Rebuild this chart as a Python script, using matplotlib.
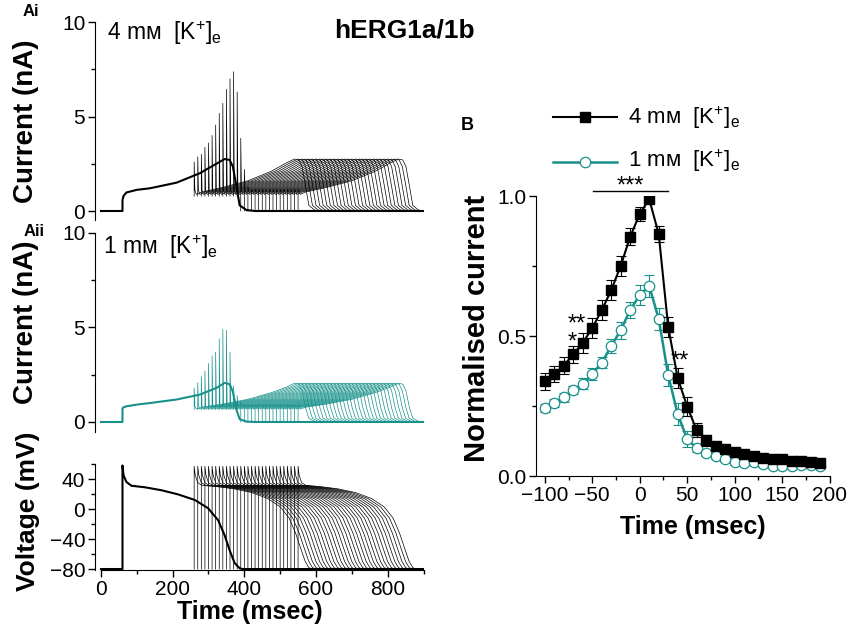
import numpy as np
import matplotlib.pyplot as plt
from matplotlib.lines import Line2D
from matplotlib.ticker import MultipleLocator

plt.rcParams['font.family'] = ['Liberation Sans', 'DejaVu Sans']
plt.rcParams['mathtext.fontset'] = 'custom'
plt.rcParams['mathtext.rm'] = 'Liberation Sans'
plt.rcParams['mathtext.it'] = 'Liberation Sans:italic'
plt.rcParams['mathtext.bf'] = 'Liberation Sans:bold'

TEAL = '#17918a'

# ---- panel A data (key points of the traces, msec) ----
# conditioning action potential
ap1_t = [0, 60, 60, 63, 71, 85, 122, 169, 215, 262, 299, 327, 345, 359, 373, 387, 395, 900]
ap1_v = [-80, -80, 58, 45, 36, 31, 29, 25, 19.5, 12, 1, -15, -35, -55, -72, -79, -80, -80]

# premature action potential, time relative to its stimulus
pre_t = [0, 0, 3, 10, 22, 60, 110, 160, 205, 240, 265, 283, 297, 310, 320, 328]
pre_v = [-80, 57, 45, 35, 31.5, 30, 27, 22, 14, 3, -12, -32, -52, -70, -78, -80]

# premature stimulus times
stim_t = [260, 270, 280, 290, 300, 310, 320, 330, 340, 350, 360, 370, 380, 390, 400,
          410, 420, 430, 440, 450, 460, 470, 480, 490, 500, 510, 520, 530, 540, 550]

# current during conditioning AP (4 mM and 1 mM K+)
cur1_t = [0, 60, 60, 63, 71, 100, 136, 211, 276, 322, 345, 359, 368, 378, 387, 406, 430, 900]
cur1_4mm = [0, 0, 0.58, 0.8, 0.98, 1.12, 1.2, 1.5, 2.0, 2.5, 2.75, 2.7, 2.35, 1.3, 0.3, 0.05, 0, 0]
cur1_1mm = [0, 0, 0.72, 0.78, 0.83, 0.92, 1.0, 1.19, 1.45, 1.8, 2.07, 2.0, 1.6, 0.65, 0.15, 0.02, 0, 0]

# current during premature AP, time relative to stimulus
prec_t = [2, 6, 20, 80, 150, 215, 258, 280, 292, 301, 311, 320, 336, 360]
prec_4mm = [1.1, 0.88, 1.0, 1.25, 1.6, 2.1, 2.55, 2.75, 2.7, 2.35, 1.3, 0.3, 0.05, 0]
prec_1mm = [0.85, 0.68, 0.78, 0.95, 1.2, 1.55, 1.85, 2.05, 2.0, 1.65, 0.75, 0.2, 0.03, 0]

# resurgent current peaks at each stimulus
spike_4mm = [2.6, 2.87, 3.0, 3.37, 3.6, 4.0, 4.55, 5.17, 5.7, 6.44, 7.0, 7.37, 6.3, 3.85, 2.2,
             1.3, 1.15, 1.15, 1.15, 1.15, 1.15, 1.15, 1.15, 1.15, 1.15, 1.15, 1.15, 1.15, 1.15, 1.15]
spike_1mm = [1.8, 2.07, 2.4, 2.7, 3.1, 3.5, 3.7, 4.4, 4.9, 4.85, 3.7, 1.9, 1.4, 1.1, 0.95,
             0.9, 0.9, 0.9, 0.9, 0.9, 0.9, 0.9, 0.9, 0.9, 0.9, 0.9, 0.9, 0.9, 0.9, 0.9]

# ---- panel B data ----
time_b = [-100, -90, -80, -70, -60, -50, -40, -30, -20, -10, 0, 10, 20, 30, 40,
          50, 60, 70, 80, 90, 100, 110, 120, 130, 140, 150, 160, 170, 180, 190]
norm_4mm = [0.338, 0.364, 0.394, 0.435, 0.475, 0.529, 0.592, 0.664, 0.751, 0.855, 0.936, 0.989,
            0.864, 0.533, 0.35, 0.248, 0.164, 0.128, 0.108, 0.095, 0.085, 0.080, 0.073, 0.065,
            0.061, 0.059, 0.055, 0.054, 0.050, 0.048]
err_4mm = [0.03, 0.03, 0.03, 0.03, 0.035, 0.035, 0.035, 0.035, 0.035, 0.03, 0.025, 0.01,
           0.03, 0.035, 0.035, 0.035, 0.025, 0.02, 0.015, 0.01, 0.01, 0.01, 0.01, 0.01,
           0.01, 0.01, 0.01, 0.01, 0.01, 0.01]
norm_1mm = [0.242, 0.26, 0.281, 0.307, 0.329, 0.364, 0.405, 0.464, 0.521, 0.593, 0.646, 0.679,
            0.561, 0.36, 0.221, 0.132, 0.099, 0.083, 0.071, 0.060, 0.051, 0.048, 0.050, 0.043,
            0.037, 0.036, 0.037, 0.040, 0.038, 0.037]
err_1mm = [0.015, 0.015, 0.015, 0.015, 0.02, 0.02, 0.02, 0.025, 0.03, 0.03, 0.035, 0.04,
           0.04, 0.04, 0.04, 0.03, 0.015, 0.01, 0.01, 0.01, 0.01, 0.01, 0.01, 0.01,
           0.01, 0.01, 0.01, 0.01, 0.01, 0.01]

W, H = 849, 630
fig = plt.figure(figsize=(W / 100, H / 100), dpi=100)


def px_axes(x0, y0, x1, y1):
    return fig.add_axes([x0 / W, 1 - y1 / H, (x1 - x0) / W, (y1 - y0) / H])


def style(ax):
    for s in ['top', 'right']:
        ax.spines[s].set_visible(False)
    ax.tick_params(which='both', direction='out', labelsize=15, width=1, pad=2)
    ax.tick_params(which='major', length=5)
    ax.tick_params(which='minor', length=3)


def current_panel(ax, first, pre, spikes, color):
    for s, pk in zip(stim_t, spikes):
        base = 0.8 * first[4] if s < 390 else 0.0
        t = [s, s] + [s + x for x in prec_t]
        y = [base, pk] + pre
        ax.plot(t, y, color=color, lw=0.5)
    ax.plot(cur1_t, first, color=color, lw=1.5)
    ax.set_xlim(-16.7, 900)
    ax.spines['bottom'].set_visible(False)
    ax.set_xticks([])
    ax.yaxis.set_major_locator(MultipleLocator(5))
    ax.yaxis.set_minor_locator(MultipleLocator(2.5))


# Ai
axA1 = px_axes(95, 22, 423.5, 220)
style(axA1)
current_panel(axA1, cur1_4mm, prec_4mm, spike_4mm, 'black')
axA1.set_ylim(-0.476, 10)

# Aii
axA2 = px_axes(95, 233, 423.5, 432)
style(axA2)
current_panel(axA2, cur1_1mm, prec_1mm, spike_1mm, TEAL)
axA2.set_ylim(-0.53, 10)

# voltage
axV = px_axes(95, 464, 423.5, 570)
style(axV)
for s in stim_t:
    axV.plot([s + x for x in pre_t] + [900], pre_v + [-80], color='black', lw=0.5)
axV.plot(ap1_t, ap1_v, color='black', lw=1.5)
axV.set_xlim(-16.7, 900)
axV.set_ylim(-81.3, 60)
axV.spines['bottom'].set_bounds(0, 900)
axV.xaxis.set_major_locator(MultipleLocator(200))
axV.xaxis.set_minor_locator(MultipleLocator(100))
axV.yaxis.set_major_locator(MultipleLocator(40))
axV.yaxis.set_minor_locator(MultipleLocator(20))

fig.text(26 / W, 1 - 121 / H, 'Current (nA)', rotation=90, ha='center', va='center',
         fontsize=20, fontweight='bold')
fig.text(26 / W, 1 - 322 / H, 'Current (nA)', rotation=90, ha='center', va='center',
         fontsize=20, fontweight='bold')
fig.text(28 / W, 1 - 511 / H, 'Voltage (mV)', rotation=90, ha='center', va='center',
         fontsize=19, fontweight='bold')
fig.text(250 / W, 1 - 612 / H, 'Time (msec)', ha='center', va='center',
         fontsize=18, fontweight='bold')
fig.text(31 / W, 1 - 12 / H, 'Ai', ha='center', va='center', fontsize=12, fontweight='bold')
fig.text(34 / W, 1 - 232 / H, 'Aii', ha='center', va='center', fontsize=12, fontweight='bold')
lbl4 = '4 m\u043c  [K$^{+}$]$_{\\rm e}$'
lbl1 = '1 m\u043c  [K$^{+}$]$_{\\rm e}$'
fig.text(107 / W, 1 - 33 / H, lbl4, ha='left', va='center', fontsize=16.5)
fig.text(103 / W, 1 - 247 / H, lbl1, ha='left', va='center', fontsize=16.5)
fig.text(404 / W, 1 - 30 / H, 'hERG1a/1b', ha='center', va='center', fontsize=19,
         fontweight='bold')

# B
axB = px_axes(536, 196, 830, 476)
style(axB)
axB.errorbar(time_b, norm_1mm, yerr=err_1mm, fmt='none', ecolor=TEAL, elinewidth=0.8,
             capsize=3.5, capthick=0.8)
axB.plot(time_b, norm_1mm, color=TEAL, lw=1.8, marker='o', ms=7.5, mfc='white',
         mec=TEAL, mew=0.9)
axB.errorbar(time_b, norm_4mm, yerr=err_4mm, fmt='none', ecolor='black', elinewidth=0.8,
             capsize=3.5, capthick=0.8)
axB.plot(time_b, norm_4mm, color='black', lw=1.5, marker='s', ms=6.5)
axB.set_xlim(-109.3, 200.5)
axB.set_ylim(0, 1.0)
axB.xaxis.set_major_locator(MultipleLocator(50))
axB.xaxis.set_minor_locator(MultipleLocator(25))
axB.yaxis.set_major_locator(MultipleLocator(0.5))
axB.yaxis.set_minor_locator(MultipleLocator(0.25))
axB.yaxis.set_major_formatter(plt.FormatStrFormatter('%.1f'))
axB.plot([-49, 30], [1.017, 1.017], color='black', lw=1, clip_on=False)
axB.text(-10, 1.035, '***', ha='center', va='center', fontsize=17, clip_on=False)
axB.text(-66, 0.51, '**\n*', ha='center', va='center', multialignment='left',
         fontsize=17, linespacing=0.75)
axB.text(42, 0.41, '**', ha='center', va='center', fontsize=17)

fig.text(477 / W, 1 - 328 / H, 'Normalised current', rotation=90, ha='center', va='center',
         fontsize=21, fontweight='bold')
fig.text(693 / W, 1 - 527 / H, 'Time (msec)', ha='center', va='center', fontsize=18,
         fontweight='bold')
fig.text(467 / W, 1 - 125 / H, 'B', ha='center', va='center', fontsize=13, fontweight='bold')

# legend for B
fig.add_artist(Line2D([553 / W, 617 / W], [1 - 117 / H] * 2, color='black', lw=1.5))
fig.add_artist(Line2D([585 / W], [1 - 117 / H], marker='s', ms=6.5, color='black'))
fig.add_artist(Line2D([553 / W, 617 / W], [1 - 162 / H] * 2, color=TEAL, lw=1.8))
fig.add_artist(Line2D([585 / W], [1 - 162 / H], marker='o', ms=7.5, mfc='white', mec=TEAL,
                      mew=0.9, color=TEAL))
fig.text(628 / W, 1 - 118 / H, lbl4, ha='left', va='center', fontsize=16)
fig.text(628 / W, 1 - 161 / H, lbl1, ha='left', va='center', fontsize=16)

fig.savefig('out.png', dpi=100)
